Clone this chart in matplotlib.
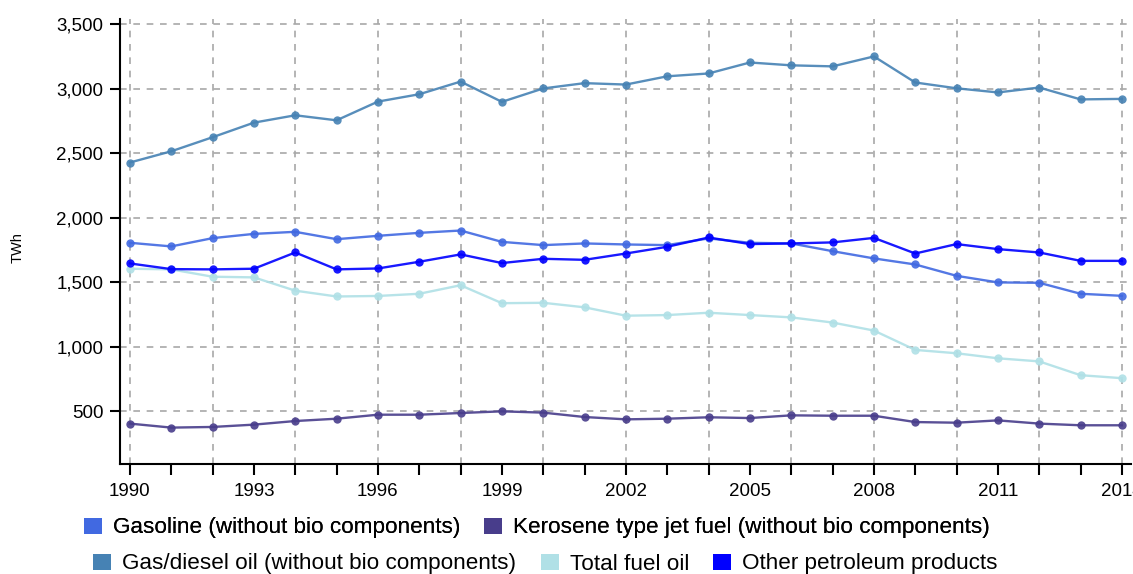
import numpy as np
import matplotlib
matplotlib.use("Agg")
import matplotlib.pyplot as plt
from matplotlib.patches import Patch

plt.rcParams['font.family'] = ['Liberation Sans', 'DejaVu Sans']

years = list(range(1990, 2015))

gasoline = [1806, 1778, 1842, 1875, 1891, 1834, 1860, 1883, 1901, 1813,
            1788, 1801, 1793, 1788, 1840, 1806, 1801, 1741, 1685, 1638,
            1550, 1499, 1496, 1411, 1395]
kerosene = [405, 374, 379, 397, 425, 443, 474, 474, 487, 500,
            490, 456, 438, 443, 454, 448, 469, 466, 466, 417,
            412, 430, 405, 392, 392]
gas_diesel = [2428, 2515, 2624, 2737, 2794, 2755, 2900, 2957, 3055, 2898,
              3002, 3043, 3032, 3096, 3118, 3203, 3181, 3173, 3250, 3048,
              3003, 2971, 3009, 2917, 2921]
fuel_oil = [1605, 1600, 1543, 1538, 1435, 1390, 1394, 1411, 1477, 1338,
            1341, 1306, 1241, 1246, 1264, 1246, 1228, 1188, 1126, 976,
            950, 911, 887, 780, 757]
other = [1646, 1602, 1600, 1605, 1731, 1600, 1607, 1659, 1716, 1649,
         1682, 1674, 1723, 1775, 1847, 1796, 1801, 1809, 1844, 1723,
         1796, 1757, 1731, 1666, 1666]

names = ["Gasoline (without bio components)",
         "Kerosene type jet fuel (without bio components)",
         "Gas/diesel oil (without bio components)",
         "Total fuel oil",
         "Other petroleum products"]
colors = ["#4169E1", "#483D8B", "#4682B4", "#B0E0E6", "#0000FF"]
series = [gasoline, kerosene, gas_diesel, fuel_oil, other]

fig = plt.figure(figsize=(11.33, 5.74), dpi=100)
ax = fig.add_axes([120 / 1133, 1 - 464 / 574, 1011 / 1133, 445 / 574])

for vals, col in zip(series, colors):
    ax.plot(years, vals, color=col, lw=1.7, marker='o', markersize=6,
            markeredgewidth=0, alpha=0.9)

ax.set_xlim(1989.76, 2014.22)
ax.set_ylim(92, 3540)

ax.set_yticks(range(500, 3501, 500))
ax.yaxis.set_major_formatter(matplotlib.ticker.FuncFormatter(lambda v, p: f"{int(v):,}"))
ax.set_xticks(range(1990, 2015, 3))
ax.set_xticks(range(1990, 2015), minor=True)

# dashed grid: every 500 TWh, every second year
for y in range(500, 3501, 500):
    ax.axhline(y, color="#a8a8a8", lw=1.2, ls=(0, (4, 4)), zorder=0)
for x in range(1990, 2015, 2):
    ax.axvline(x, color="#a8a8a8", lw=1.2, ls=(0, (4, 4)), zorder=0)

for s in ["top", "right"]:
    ax.spines[s].set_visible(False)
for s in ["left", "bottom"]:
    ax.spines[s].set_linewidth(1.5)
    ax.spines[s].set_color("black")

ax.tick_params(axis='y', length=7, width=1.5, labelsize=13.5, pad=5)
ax.tick_params(axis='x', which='both', length=8, width=1.5, labelsize=13.5, pad=6)

fig.text(18 / 1133, 1 - 248 / 574, "TWh", rotation=90, fontsize=10.5,
         ha='center', va='center')

handles = [Patch(facecolor=c, edgecolor='none') for c in colors]
leg_kw = dict(loc='center', frameon=False, fontsize=16.2, handlelength=0.8,
              handleheight=0.7, handletextpad=0.49, columnspacing=1.07,
              borderaxespad=0, borderpad=0)
leg1 = fig.legend(handles[:2], names[:2], ncol=2,
                  bbox_to_anchor=(537 / 1133, 1 - 528 / 574), **leg_kw)
fig.add_artist(leg1)
fig.legend(handles[2:], names[2:], ncol=3,
           bbox_to_anchor=(545.5 / 1133, 1 - 564 / 574), **leg_kw)

fig.savefig("out.png", dpi=100)
